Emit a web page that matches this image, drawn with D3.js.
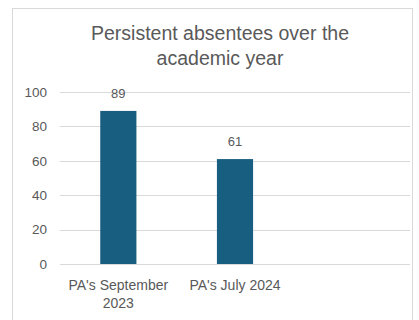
<!DOCTYPE html>
<html>
<head>
<meta charset="utf-8">
<script src="https://cdn.jsdelivr.net/npm/d3@7"></script>
<style>
  body { margin: 0; background: #fff; }
  text { font-family: "Liberation Sans", Arial, sans-serif; fill: #595959; }
</style>
</head>
<body>
<div id="chart-area"></div>
<script>
const categories = ["PA's September 2023", "PA's July 2024", ""];
const values = [89, 61, null];
const yTicks = [0, 20, 40, 60, 80, 100];
const titleLines = ["Persistent absentees over the", "academic year"];

const svgWidth = 419,
      svgHeight = 320;
const margin = {left: 60, right: 9, top: 92, bottom: 56};
const areaWidth = svgWidth - margin.left - margin.right;
const areaHeight = svgHeight - margin.top - margin.bottom;

const svg = d3.select("#chart-area")
  .append("svg")
  .attr("width", svgWidth)
  .attr("height", svgHeight);

// chart frame
svg.append("rect")
  .attr("x", 12.5).attr("y", 8.5)
  .attr("width", 400).attr("height", 330)
  .attr("fill", "none")
  .attr("stroke", "#d9d9d9");

// title, two lines
svg.selectAll(".title")
  .data(titleLines)
  .enter().append("text")
  .attr("class", "title")
  .attr("x", 220)
  .attr("y", (d, i) => 40 + i * 25)
  .attr("text-anchor", "middle")
  .attr("font-size", "19.5px")
  .text(d => d);

const area = svg.append("g")
  .attr("transform", `translate(${margin.left}, ${margin.top})`);

const x = d3.scaleBand()
  .domain(categories)
  .range([0, areaWidth])
  .paddingInner(0.69)
  .paddingOuter(0.345);

const y = d3.scaleLinear().domain([0, 100]).range([areaHeight, 0]);

// gridlines
area.selectAll(".grid")
  .data(yTicks)
  .enter().append("line")
  .attr("class", "grid")
  .attr("x1", 0).attr("x2", areaWidth)
  .attr("y1", d => Math.round(y(d)) + 0.5)
  .attr("y2", d => Math.round(y(d)) + 0.5)
  .attr("stroke", "#d9d9d9")
  .attr("stroke-width", 1);

const yAxisCall = d3.axisLeft(y).tickValues(yTicks).tickSize(0).tickPadding(13);
const yAxisGroup = area.append("g").call(yAxisCall);
yAxisGroup.select(".domain").remove();
yAxisGroup.selectAll("text")
  .attr("font-family", "Liberation Sans, Arial, sans-serif")
  .attr("font-size", "13.5px")
  .attr("fill", "#595959");

const barData = categories.map((c, i) => ({cat: c, value: values[i]})).filter(d => d.value != null);

area.selectAll(".bar")
  .data(barData)
  .enter().append("rect")
  .attr("class", "bar")
  .attr("x", d => x(d.cat))
  .attr("width", x.bandwidth())
  .attr("y", d => y(d.value))
  .attr("height", d => areaHeight - y(d.value))
  .attr("fill", "#185e80");

area.selectAll(".val")
  .data(barData)
  .enter().append("text")
  .attr("class", "val")
  .attr("x", d => x(d.cat) + x.bandwidth() / 2)
  .attr("y", d => y(d.value) - 13)
  .attr("text-anchor", "middle")
  .attr("font-size", "13px")
  .text(d => d.value);

// category labels, wrapped like the original
const catLines = {"PA's September 2023": ["PA's September", "2023"], "PA's July 2024": ["PA's July 2024"], "": []};
const labels = area.selectAll(".cat")
  .data(categories)
  .enter().append("text")
  .attr("class", "cat")
  .attr("text-anchor", "middle")
  .attr("font-size", "14px");
labels.selectAll("tspan")
  .data(d => catLines[d].map(t => ({t: t, cat: d})))
  .enter().append("tspan")
  .attr("x", d => x(d.cat) + x.bandwidth() / 2)
  .attr("y", (d, i) => areaHeight + 26 + i * 18)
  .text(d => d.t);
</script>
</body>
</html>
